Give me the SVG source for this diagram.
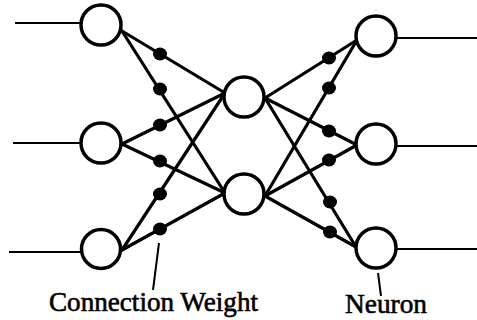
<svg xmlns="http://www.w3.org/2000/svg" width="477" height="320" viewBox="0 0 477 320">
<style>
.n{fill:#fff;stroke:#000;stroke-width:3.5}
.c{stroke:#000;stroke-width:3.2;fill:none;stroke-linecap:round}
.io{stroke:#000;stroke-width:2.2;fill:none}
.w{fill:#000}
.tk{stroke:#000;stroke-width:2;fill:none}
</style>
<rect width="477" height="320" fill="#fff"/>
<g id="connectors">
<line class="io" x1="15" y1="23" x2="81" y2="23"/>
<line class="io" x1="13" y1="143" x2="81" y2="143"/>
<line class="io" x1="9" y1="252" x2="81" y2="252"/>
<line class="io" x1="396" y1="38" x2="477" y2="38"/>
<line class="io" x1="396" y1="146" x2="477" y2="146"/>
<line class="io" x1="396" y1="249" x2="477" y2="249"/>
<line class="c" x1="122" y1="31" x2="225" y2="93"/>
<line class="c" x1="122" y1="31" x2="225" y2="193"/>
<line class="c" x1="122" y1="144" x2="225" y2="93"/>
<line class="c" x1="122" y1="144" x2="225" y2="193"/>
<line class="c" x1="122" y1="250" x2="225" y2="93"/>
<line class="c" x1="122" y1="250" x2="225" y2="193"/>
<line class="c" x1="265" y1="98" x2="357" y2="40"/>
<line class="c" x1="265" y1="98" x2="357" y2="145"/>
<line class="c" x1="265" y1="98" x2="356" y2="247"/>
<line class="c" x1="265" y1="196" x2="357" y2="40"/>
<line class="c" x1="265" y1="196" x2="357" y2="145"/>
<line class="c" x1="265" y1="196" x2="356" y2="247"/>
<line class="tk" x1="159" y1="243" x2="153" y2="290"/>
<line class="tk" x1="378" y1="273" x2="381" y2="296"/>
</g>
<g id="weights">
<ellipse class="w" cx="160" cy="54" rx="7" ry="6.5"/>
<ellipse class="w" cx="160" cy="89" rx="7" ry="6.5"/>
<ellipse class="w" cx="160" cy="125" rx="7" ry="6.5"/>
<ellipse class="w" cx="160" cy="161" rx="7" ry="6.5"/>
<ellipse class="w" cx="160" cy="194" rx="7" ry="6.5"/>
<ellipse class="w" cx="160" cy="229" rx="7" ry="6.5"/>
<ellipse class="w" cx="329" cy="58" rx="7" ry="6.5"/>
<ellipse class="w" cx="329" cy="88" rx="7" ry="6.5"/>
<ellipse class="w" cx="329" cy="131" rx="7" ry="6.5"/>
<ellipse class="w" cx="329" cy="160" rx="7" ry="6.5"/>
<ellipse class="w" cx="330" cy="202" rx="7" ry="6.5"/>
<ellipse class="w" cx="330" cy="232" rx="7" ry="6.5"/>
</g>
<g id="in1"><circle class="n" cx="101" cy="25" r="20"/></g>
<g id="in2"><circle class="n" cx="101" cy="143" r="20"/></g>
<g id="in3"><circle class="n" cx="101" cy="249" r="19.5"/></g>
<g id="hid1"><circle class="n" cx="244" cy="97" r="20"/></g>
<g id="hid2"><circle class="n" cx="244" cy="194" r="20"/></g>
<g id="out1"><circle class="n" cx="376" cy="36" r="20"/></g>
<g id="out2"><circle class="n" cx="376" cy="144" r="20"/></g>
<g id="out3"><circle class="n" cx="376" cy="248" r="20"/></g>
<g id="labels" font-family="'Liberation Serif', 'Times New Roman', serif" font-size="27.5" fill="#000" stroke="#000" stroke-width="0.6">
<text x="49" y="311" textLength="209" lengthAdjust="spacingAndGlyphs">Connection Weight</text>
<text x="345" y="313" textLength="82" lengthAdjust="spacingAndGlyphs">Neuron</text>
</g>
</svg>
